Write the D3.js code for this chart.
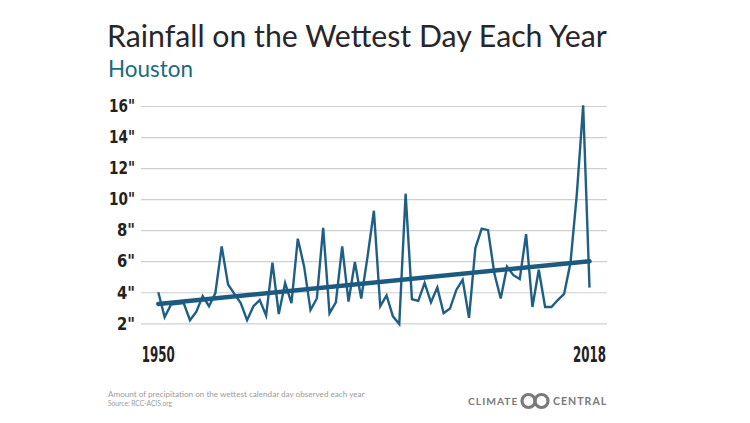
<!DOCTYPE html>
<html>
<head>
<meta charset="utf-8">
<script src="https://cdn.jsdelivr.net/npm/d3@7"></script>
<style>
  body { margin: 0; background: #fff; }
</style>
</head>
<body>
<div id="chart"></div>
<script>
// Wettest-day rainfall (inches), Houston, 1950-2018
var years = d3.range(1950, 2019);
var rainfall = [
  4.0, 2.4, 3.2, 3.25, 3.3, 2.2, 2.75, 3.75, 3.1, 3.95,
  6.95, 4.5, 3.9, 3.3, 2.2, 3.1, 3.5, 2.5, 5.9, 2.6,
  4.6, 3.3, 7.45, 5.65, 2.85, 3.6, 8.15, 2.65, 3.35, 6.95,
  3.4, 5.95, 3.6, 6.3, 9.25, 3.1, 3.8, 2.45, 1.95, 10.35,
  3.55, 3.45, 4.6, 3.35, 4.3, 2.65, 2.95, 4.15, 4.8, 2.35,
  6.85, 8.1, 8.0, 5.2, 3.6, 5.65, 5.1, 4.85, 7.75, 3.05,
  5.45, 3.05, 3.05, 3.5, 3.9, 5.9, 10.3, 16.05, 4.3
];
var trendYears = [1950, 2018];
var trendValues = [3.25, 6.0];
var yTicks = [2, 4, 6, 8, 10, 12, 14, 16];
var xLabels = [1950, 2018];

var width = 750, height = 423;
var gridLeft = 141, gridRight = 607;
var condensed = "'Liberation Sans Narrow', 'DejaVu Sans Condensed', 'DejaVu Sans', sans-serif";

var svg = d3.select("#chart")
    .append("svg")
    .attr("width", width)
    .attr("height", height);

var x = d3.scaleLinear()
    .domain([1950, 2018])
    .range([158.3, 589.5]);

var y = d3.scaleLinear()
    .domain([2, 16])
    .range([323.3, 106]);

// Gridlines + y labels from one axis
var yAxis = svg.append("g")
    .attr("transform", "translate(" + gridRight + ",0)")
    .call(d3.axisLeft(y)
        .tickValues(yTicks)
        .tickSize(gridRight - gridLeft)
        .tickPadding(6)
        .tickFormat(function (d) { return d + '"'; }));
yAxis.select(".domain").remove();
yAxis.selectAll("line")
    .attr("stroke", "#cfcfcf")
    .attr("stroke-width", 1.2);
// labels in the original are a narrow bold face, squeeze them to width
yAxis.selectAll("text")
    .attr("fill", "#222")
    .attr("textLength", function (d) { return d >= 10 ? 26 : 18; })
    .attr("lengthAdjust", "spacingAndGlyphs")
    .style("font-family", condensed)
    .style("font-weight", "bold")
    .style("font-size", "18px");

// X labels (first and last year only)
svg.append("g")
    .selectAll("text")
    .data(xLabels)
    .enter()
    .append("text")
    .attr("x", function (d) { return x(d); })
    .attr("y", 362)
    .attr("text-anchor", "middle")
    .attr("textLength", 33)
    .attr("lengthAdjust", "spacingAndGlyphs")
    .attr("fill", "#222")
    .style("font-family", condensed)
    .style("font-weight", "bold")
    .style("font-size", "22px")
    .text(function (d) { return d; });

// Data line
var line = d3.line()
    .x(function (d, i) { return x(years[i]); })
    .y(function (d) { return y(d); });

svg.append("path")
    .datum(rainfall)
    .attr("d", line)
    .attr("fill", "none")
    .attr("stroke", "#1f5f85")
    .attr("stroke-width", 2.4)
    .attr("stroke-linejoin", "miter");

// Trend line
svg.append("line")
    .attr("x1", x(trendYears[0]))
    .attr("y1", y(trendValues[0]))
    .attr("x2", x(trendYears[1]))
    .attr("y2", y(trendValues[1]))
    .attr("stroke", "#1d5a80")
    .attr("stroke-width", 4.5)
    .attr("stroke-linecap", "round");

// Fit a text element to a target width by scaling its font size
function fitWidth(sel, target) {
    var w = sel.node().getComputedTextLength();
    var fs = parseFloat(sel.style("font-size"));
    sel.style("font-size", (fs * target / w) + "px");
}

var title = svg.append("text")
    .attr("x", 107)
    .attr("y", 47)
    .attr("fill", "#26262b")
    .style("font-family", "Lato, 'Open Sans', sans-serif")
    .style("font-size", "28px")
    .text("Rainfall on the Wettest Day Each Year");
fitWidth(title, 500);

var sub = svg.append("text")
    .attr("x", 108)
    .attr("y", 77)
    .attr("fill", "#1c6b82")
    .style("font-family", "Lato, 'Open Sans', sans-serif")
    .style("font-size", "21px")
    .text("Houston");
fitWidth(sub, 85);

// Footer notes
var note = svg.append("text")
    .attr("x", 108)
    .attr("y", 397)
    .attr("fill", "#9a9a9a")
    .style("font-family", "Lato, 'Open Sans', sans-serif")
    .style("font-size", "8px")
    .text("Amount of precipitation on the wettest calendar day observed each year");
fitWidth(note, 257);

var src = svg.append("text")
    .attr("x", 108)
    .attr("y", 405.5)
    .attr("fill", "#9a9a9a")
    .style("font-family", "Lato, 'Open Sans', sans-serif")
    .style("font-size", "7px")
    .text("Source: RCC-ACIS.org");
fitWidth(src, 64);

// Climate Central logo
var logoColor = "#7a7a7a";
var c1 = svg.append("text")
    .attr("x", 468)
    .attr("y", 405)
    .attr("fill", logoColor)
    .style("font-family", "Lato, 'Open Sans', sans-serif")
    .style("font-weight", "bold")
    .style("font-size", "11px")
    .style("letter-spacing", "1px")
    .text("CLIMATE");
fitWidth(c1, 50);

svg.append("circle")
    .attr("cx", 528.5).attr("cy", 401).attr("r", 6.5)
    .attr("fill", "none").attr("stroke", logoColor).attr("stroke-width", 3.2);
svg.append("circle")
    .attr("cx", 541.5).attr("cy", 401).attr("r", 6.5)
    .attr("fill", "none").attr("stroke", logoColor).attr("stroke-width", 3.2);

var c2 = svg.append("text")
    .attr("x", 553)
    .attr("y", 405)
    .attr("fill", logoColor)
    .style("font-family", "Lato, 'Open Sans', sans-serif")
    .style("font-weight", "bold")
    .style("font-size", "11px")
    .style("letter-spacing", "1px")
    .text("CENTRAL");
fitWidth(c2, 54);
</script>
</body>
</html>
